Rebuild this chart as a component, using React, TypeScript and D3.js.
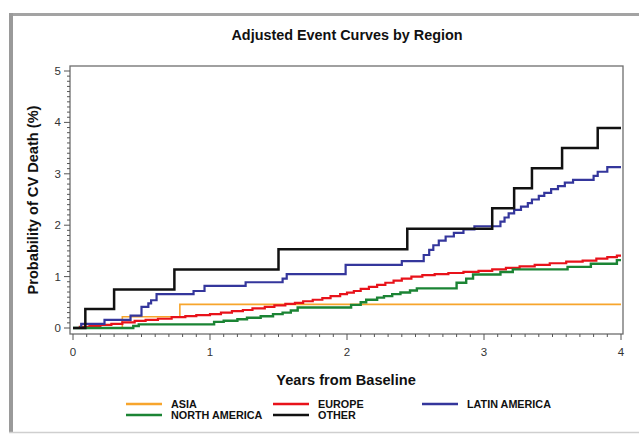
import React from "react";
import * as d3 from "d3";

// [years, probability %] step points
const asia: [number, number][] = [
  [0, 0], [0.36, 0.22], [0.78, 0.46],
];

const europe: [number, number][] = [
  [0, 0], [0.05, 0.02], [0.12, 0.04], [0.2, 0.06], [0.28, 0.08], [0.36, 0.11],
  [0.45, 0.14], [0.53, 0.16], [0.62, 0.18], [0.72, 0.21], [0.82, 0.23], [0.9, 0.25],
  [1.0, 0.27], [1.08, 0.3], [1.16, 0.33], [1.24, 0.35], [1.31, 0.38], [1.4, 0.41],
  [1.47, 0.44], [1.55, 0.47], [1.62, 0.49], [1.68, 0.52], [1.75, 0.55], [1.82, 0.58],
  [1.88, 0.62], [1.95, 0.66], [2.0, 0.69], [2.05, 0.72], [2.1, 0.76], [2.16, 0.8],
  [2.22, 0.84], [2.28, 0.88], [2.34, 0.92], [2.4, 0.96], [2.47, 1.0], [2.55, 1.03],
  [2.64, 1.05], [2.74, 1.07], [2.85, 1.09], [2.96, 1.11], [3.06, 1.14], [3.16, 1.17],
  [3.26, 1.2], [3.37, 1.23], [3.48, 1.26], [3.6, 1.29], [3.72, 1.31], [3.82, 1.35],
  [3.9, 1.38], [3.97, 1.41],
];

const latinAmerica: [number, number][] = [
  [0, 0], [0.06, 0.08], [0.23, 0.16], [0.42, 0.24], [0.5, 0.41], [0.55, 0.48],
  [0.57, 0.54], [0.61, 0.66], [0.88, 0.72], [0.96, 0.82], [1.26, 0.89], [1.53, 0.96],
  [1.56, 1.05], [1.99, 1.23], [2.4, 1.3], [2.56, 1.42], [2.6, 1.52], [2.63, 1.61],
  [2.67, 1.7], [2.72, 1.78], [2.78, 1.85], [2.85, 1.92], [2.93, 1.98], [3.12, 2.07],
  [3.15, 2.15], [3.18, 2.23], [3.22, 2.3], [3.27, 2.36], [3.32, 2.43], [3.35, 2.5],
  [3.4, 2.57], [3.44, 2.63], [3.49, 2.7], [3.54, 2.76], [3.59, 2.83], [3.65, 2.88],
  [3.8, 2.96], [3.83, 3.04], [3.9, 3.13],
];

const northAmerica: [number, number][] = [
  [0, 0], [0.44, 0.04], [0.48, 0.07], [1.03, 0.12], [1.1, 0.14], [1.2, 0.17],
  [1.27, 0.2], [1.37, 0.23], [1.46, 0.27], [1.53, 0.3], [1.59, 0.34], [1.64, 0.4],
  [2.03, 0.45], [2.1, 0.5], [2.14, 0.55], [2.22, 0.59], [2.27, 0.62], [2.33, 0.66],
  [2.39, 0.69], [2.46, 0.73], [2.51, 0.77], [2.8, 0.88], [2.87, 0.96], [2.92, 1.04],
  [3.12, 1.09], [3.21, 1.14], [3.61, 1.19], [3.78, 1.25], [3.97, 1.32],
];

const other: [number, number][] = [
  [0, 0], [0.09, 0.37], [0.3, 0.75], [0.74, 1.14], [1.5, 1.53], [2.44, 1.93],
  [3.06, 2.33], [3.22, 2.72], [3.35, 3.11], [3.57, 3.5], [3.83, 3.89],
];

const followUpEnd = 4;
const xTicks = [0, 1, 2, 3, 4];
const yTicks = [0, 1, 2, 3, 4, 5];

const series = [
  { name: "ASIA", data: asia, color: "#f7a52c", width: 1.6 },
  { name: "EUROPE", data: europe, color: "#e8121a", width: 2.2 },
  { name: "LATIN AMERICA", data: latinAmerica, color: "#34369c", width: 2.2 },
  { name: "NORTH AMERICA", data: northAmerica, color: "#1b8434", width: 2.4 },
  { name: "OTHER", data: other, color: "#111111", width: 2.5 },
];

// legend slots: [column, row]
const legendSlots: Record<string, [number, number]> = {
  ASIA: [0, 0],
  EUROPE: [1, 0],
  "LATIN AMERICA": [2, 0],
  "NORTH AMERICA": [0, 1],
  OTHER: [1, 1],
};

const W = 639;
const H = 434;
const frame = { left: 70, right: 623, top: 66, bottom: 334 };
const font = "Arial, 'Liberation Sans', Helvetica, sans-serif";

export default function App() {
  const x = d3.scaleLinear().domain([0, 4]).range([73, 621]);
  const y = d3.scaleLinear().domain([0, 5]).range([328, 71]);

  const line = d3
    .line<[number, number]>()
    .x((d) => x(d[0]))
    .y((d) => y(d[1]))
    .curve(d3.curveStepAfter);

  const xMinor = d3.range(0, 40.5).map((i) => i / 10);
  const yMinor = d3.range(0, 50.5).map((i) => i / 10);

  const legendCols = [126, 273, 422];
  const legendRows = [404, 415];

  return (
    <svg
      width={W}
      height={H}
      style={{ position: "absolute", left: 0, top: 0, background: "#fff" }}
      fontFamily={font}
    >
      {/* outer frame */}
      <line x1={11} x2={W} y1={14.5} y2={14.5} stroke="#a3a3a3" strokeWidth={3} />
      <line x1={11} x2={11} y1={13} y2={433} stroke="#9a9a9a" strokeWidth={4} />
      <line x1={9} x2={W} y1={432.5} y2={432.5} stroke="#cfcfcf" strokeWidth={1.5} />

      <text x={347} y={40} textAnchor="middle" fontSize={14.4} fontWeight="bold" fill="#111">
        Adjusted Event Curves by Region
      </text>

      {/* curves */}
      {series.map((s) => (
        <path
          key={s.name}
          d={line([...s.data, [followUpEnd, s.data[s.data.length - 1][1]]]) ?? ""}
          fill="none"
          stroke={s.color}
          strokeWidth={s.width}
        />
      ))}

      {/* plot frame */}
      <rect
        x={frame.left}
        y={frame.top}
        width={frame.right - frame.left}
        height={frame.bottom - frame.top}
        fill="none"
        stroke="#6e6e6e"
        strokeWidth={1.3}
      />

      {/* y axis */}
      {yMinor.map((v) => {
        const major = Math.abs(v - Math.round(v)) < 1e-6;
        return (
          <line
            key={"ym" + v}
            x1={frame.left}
            x2={frame.left - (major ? 6 : 3)}
            y1={y(v)}
            y2={y(v)}
            stroke="#555"
            strokeWidth={1}
          />
        );
      })}
      {yTicks.map((v) => (
        <text key={"yt" + v} x={61} y={y(v) + 4} textAnchor="end" fontSize={11.5} fill="#333">
          {v}
        </text>
      ))}
      <text
        transform={`translate(38, ${(frame.top + frame.bottom) / 2}) rotate(-90)`}
        textAnchor="middle"
        fontSize={14.6}
        fontWeight="bold"
        fill="#111"
      >
        Probability of CV Death (%)
      </text>

      {/* x axis */}
      {xMinor.map((t) => {
        const major = Math.abs(t - Math.round(t)) < 1e-6;
        return (
          <line
            key={"xm" + t}
            x1={x(t)}
            x2={x(t)}
            y1={frame.bottom}
            y2={frame.bottom + (major ? 6 : 3)}
            stroke="#555"
            strokeWidth={1}
          />
        );
      })}
      {xTicks.map((t) => (
        <text key={"xt" + t} x={x(t)} y={356} textAnchor="middle" fontSize={11.5} fill="#333">
          {t}
        </text>
      ))}
      <text x={346} y={385} textAnchor="middle" fontSize={14.6} fontWeight="bold" fill="#111">
        Years from Baseline
      </text>

      {/* legend */}
      {series.map((s) => {
        const [c, r] = legendSlots[s.name];
        const lx = legendCols[c];
        const ly = legendRows[r];
        return (
          <g key={"lg" + s.name}>
            <line x1={lx} x2={lx + 36} y1={ly} y2={ly} stroke={s.color} strokeWidth={2.5} />
            <text x={lx + 45} y={ly + 4} fontSize={10.8} fontWeight="bold" fill="#111">
              {s.name}
            </text>
          </g>
        );
      })}
    </svg>
  );
}
